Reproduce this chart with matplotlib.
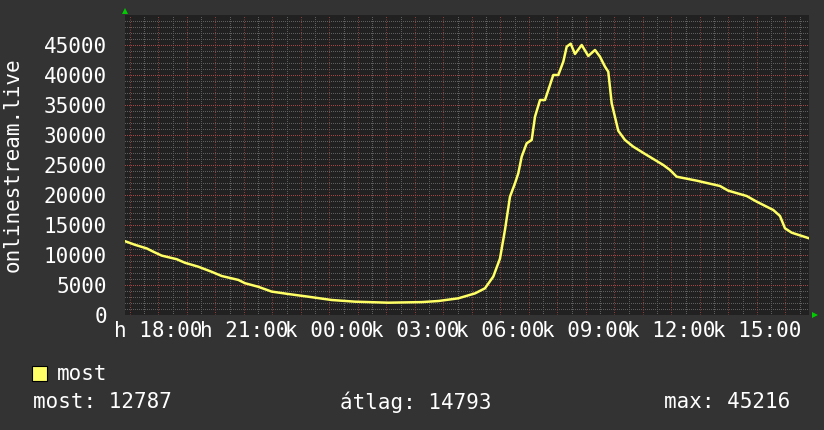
import numpy as np
import matplotlib
matplotlib.use("Agg")
import matplotlib.pyplot as plt
from matplotlib.patches import Rectangle

# ---- data (clock hours, continuous from midnight of the first day) ----
hours = [16.825, 17.175, 17.586, 17.818, 18.112, 18.639, 18.930, 19.396, 19.867,
         20.218, 20.800, 21.035, 21.502, 21.972, 22.554, 23.256, 24.077, 24.895,
         26.063, 27.235, 27.818, 28.519, 29.105, 29.456, 29.747, 29.982, 30.158,
         30.333, 30.509, 30.625, 30.744, 30.919, 31.095, 31.211, 31.386, 31.561,
         31.737, 31.853, 32.028, 32.204, 32.323, 32.463, 32.614, 32.849, 33.081,
         33.316, 33.491, 33.667, 33.782, 33.902, 34.018, 34.133, 34.368, 34.660,
         35.130, 35.712, 35.947, 36.182, 36.884, 37.702, 37.993, 38.639, 38.989,
         39.572, 39.807, 39.982, 40.218, 40.825]
users = [12300, 11700, 11100, 10550, 9900, 9300, 8700, 8050, 7200,
         6500, 5850, 5300, 4700, 3900, 3500, 3050, 2500, 2220,
         2050, 2150, 2330, 2780, 3600, 4450, 6400, 9400, 14200,
         19720, 21950, 23620, 26390, 28620, 29170, 33050, 35830, 35830,
         38330, 40000, 40000, 42220, 44720, 45216, 43500, 45000, 43170,
         44170, 43050, 41390, 40550, 35280, 33000, 30700, 29170, 28050,
         26670, 25000, 24170, 23050, 22390, 21500, 20720, 19830, 18890,
         17500, 16500, 14450, 13720, 12787]

ytick_values = [0, 5000, 10000, 15000, 20000, 25000, 30000, 35000, 40000, 45000]
xtick_hours = [18, 21, 24, 27, 30, 33, 36, 39]
xtick_labels = ["h 18:00", "h 21:00", "k 00:00", "k 03:00",
                "k 06:00", "k 09:00", "k 12:00", "k 15:00"]
y_label = "onlinestream.live"
legend_name = "most"
stat_labels = ["most: 12787", "átlag: 14793", "max: 45216"]

# ---- styling ----
plt.rcParams["font.family"] = ["DejaVu Sans Mono", "DejaVu Sans"]
BG = "#333333"
CANVAS = "#212121"
MINOR = "#5e5e5e"
MAJOR = "#8e3c3c"
MAJOR_H = "#a34646"
LINE = "#ffff66"
FS = 15

W, H = 824, 430
fig = plt.figure(figsize=(W / 100, H / 100), dpi=100, facecolor=BG)
ax = fig.add_axes([125 / W, (H - 315) / H, 684 / W, 300 / H])
ax.set_facecolor(CANVAS)
x0, x1 = 16.825, 40.825
ax.set_xlim(x0, x1)
ax.set_ylim(0, 50000)
for s in ax.spines.values():
    s.set_visible(False)

dot = (0, (1.0, 1.5))
lw = 0.72
# minor grid
mx = [h for h in np.arange(17.0, 41.0, 0.5) if h % 1 != 0 and x0 < h < x1]
ax.vlines(mx, 0, 50000, colors=MINOR, linestyles=dot, lw=lw, zorder=1,
          antialiased=False)
my = [v for v in range(1000, 50000, 1000) if v % 5000 != 0]
ax.hlines(my, x0, x1, colors=MINOR, linestyles=dot, lw=lw, zorder=1,
          antialiased=False)
# major grid
Mx = [h for h in range(17, 41) if x0 < h < x1]
for h in Mx:
    ax.axvline(h, color=MAJOR, ls=dot, lw=lw, zorder=1.2, snap=True)
ax.hlines(ytick_values, x0, x1, colors=MAJOR_H, linestyles=dot, lw=lw,
          zorder=1.2, antialiased=False)

ax.plot(hours, users, color=LINE, lw=1.8, zorder=3, solid_joinstyle="round")

ax.set_yticks(ytick_values)
ax.set_yticklabels([str(v) for v in ytick_values])
ax.set_xticks(xtick_hours)
ax.set_xticklabels(xtick_labels)
ax.tick_params(axis="y", length=0, pad=13, labelsize=FS, labelcolor="white")
ax.tick_params(axis="x", length=0, pad=4, labelsize=FS, labelcolor="white")
ax.set_ylabel(y_label, color="white", fontsize=FS, labelpad=15)

# arrows
ax.plot([0], [1.0 + 4 / 300], marker="^", color="#00cc00", ms=5, mew=0,
        transform=ax.transAxes, clip_on=False, zorder=5)
ax.plot([1.0 + 6 / 684], [0], marker=">", color="#00cc00", ms=5, mew=0,
        transform=ax.transAxes, clip_on=False, zorder=5)

# legend
fig.patches.append(Rectangle((32 / W, 1 - 381 / H), 15 / W, 15 / H,
                             transform=fig.transFigure, facecolor=LINE,
                             edgecolor="black", lw=0.8))
fig.text(57 / W, 1 - 374 / H, legend_name, color="white", fontsize=FS,
         va="center", ha="left")
fig.text(33 / W, 1 - 402 / H, stat_labels[0], color="white", fontsize=FS,
         va="center", ha="left")
fig.text(340 / W, 1 - 402 / H, stat_labels[1], color="white", fontsize=FS,
         va="center", ha="left")
fig.text(664 / W, 1 - 402 / H, stat_labels[2], color="white", fontsize=FS,
         va="center", ha="left")

fig.savefig("out.png", dpi=100, facecolor=BG)
